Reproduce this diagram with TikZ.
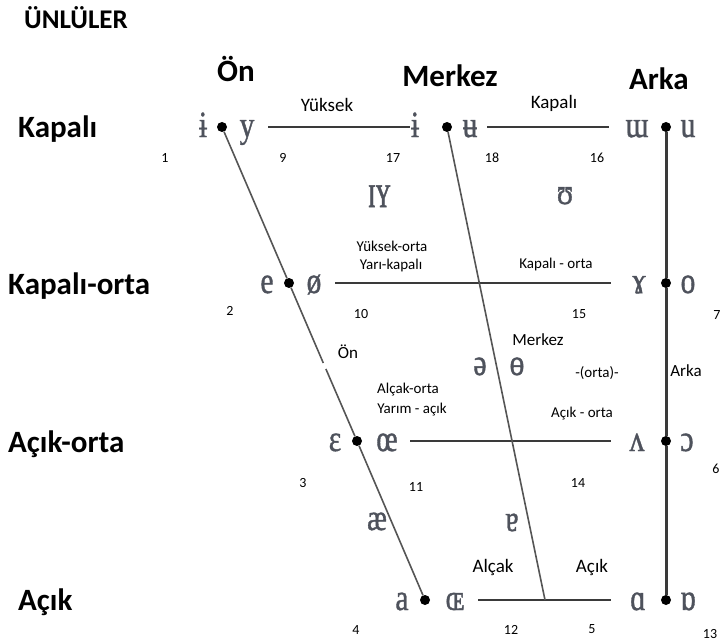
\documentclass[tikz,border=0pt]{standalone}
\usepackage{fontspec}
\setmainfont{Carlito}
\newfontfamily\ipafont[FakeBold=1.2]{Liberation Serif}
\definecolor{ipagray}{HTML}{4E525C}
\definecolor{linegray}{HTML}{3A3A3A}
\definecolor{diaggray}{HTML}{555555}
\newcommand{\ipx}[1]{\scalebox{0.8}[1]{#1}}
\begin{document}
\begin{tikzpicture}[x=1pt,y=-1pt,
  ipa/.style={font=\ipafont\fontsize{37}{37}\selectfont,text=ipagray,inner sep=0pt,anchor=base},
  head/.style={font=\bfseries\fontsize{31}{31}\selectfont,inner sep=0pt,anchor=base},
  title/.style={font=\bfseries\fontsize{27}{27}\selectfont,inner sep=0pt,anchor=base},
  biglab/.style={font=\fontsize{19}{19}\selectfont,inner sep=0pt,anchor=base},
  midlab/.style={font=\fontsize{17}{17}\selectfont,inner sep=0pt,anchor=base},
  smalllab/.style={font=\fontsize{15}{15}\selectfont,inner sep=0pt,anchor=base},
  num/.style={font=\fontsize{14}{14}\selectfont,inner sep=0pt,anchor=base},
  vdot/.style={circle,fill=black,inner sep=0pt,minimum size=10pt},
  hline/.style={line width=2.6pt,draw=linegray},
  bline/.style={line width=3pt,draw=linegray},
  dline/.style={line width=1.6pt,draw=diaggray},
]
\useasboundingbox (0,0) rectangle (721,642);

% headings
\node[title] (t) at (76,29) {ÜNLÜLER};
\node[head] (hon) at (236,82) {Ön};
\node[head] (hmer) at (450,87) {Merkez};
\node[head] (hark) at (659,90) {Arka};
\node[head,anchor=base west] (hk) at (18,137) {Kapalı};
\node[head,anchor=base west] (hko) at (8,294) {Kapalı-orta};
\node[head,anchor=base west] (hao) at (8,452) {Açık-orta};
\node[head,anchor=base west] (ha) at (18,610) {Açık};

% dots
\node[vdot] (f1) at (222,127) {};
\node[vdot] (f2) at (289,283) {};
\node[vdot] (f3) at (357,441) {};
\node[vdot] (f4) at (425,600) {};
\node[vdot] (c1) at (447,127) {};
\node[vdot] (b1) at (666,127) {};
\node[vdot] (b2) at (666,283) {};
\node[vdot] (b3) at (666,441) {};
\node[vdot] (b4) at (666,600) {};

% line end coordinates
\coordinate (g1) at (323.3,363);
\coordinate (g2) at (325.9,369);
\coordinate (r1a) at (268,127);
\coordinate (r1b) at (410,127);
\coordinate (r1c) at (487,127);
\coordinate (r1d) at (609,127);
\coordinate (r2a) at (335,283);
\coordinate (r2b) at (611,283);
\coordinate (r3a) at (410,441);
\coordinate (r3b) at (611,441);
\coordinate (r4a) at (478,600);
\coordinate (r4b) at (611,600);
\coordinate (cb) at (545,600);

% lines
\draw[hline] (r1a) -- (r1b);
\draw[hline] (r1c) -- (r1d);
\draw[hline] (r2a) -- (r2b);
\draw[hline] (r3a) -- (r3b);
\draw[hline] (r4a) -- (r4b);
\draw[bline] (b1) -- (b2) -- (b3) -- (b4);
\draw[dline] (f1) -- (f2) -- (g1);
\draw[dline] (g2) -- (f3) -- (f4);
\draw[dline] (c1) -- (cb);

% vowel symbols
\node[ipa] (v1) at (203,137) {\ipx{ɨ}};
\node[ipa] (v9) at (247,137) {\ipx{y}};
\node[ipa] (v17) at (415,137) {\ipx{ɨ}};
\node[ipa] (v18) at (470,137) {\ipx{ʉ}};
\node[ipa] (v16) at (637,137) {\ipx{ɯ}};
\node[ipa] (v8) at (688,137) {\ipx{u}};
\node[ipa] (v2) at (267,293) {\ipx{e}};
\node[ipa] (v10) at (314,293) {\ipx{ø}};
\node[ipa] (v15) at (639,293) {\ipx{ɤ}};
\node[ipa] (v7) at (688,293) {\ipx{o}};
\node[ipa] (v3) at (335,451) {\ipx{ɛ}};
\node[ipa] (v11) at (387,451) {\ipx{œ}};
\node[ipa] (v14) at (637,451) {\ipx{ʌ}};
\node[ipa] (v6) at (687,451) {\ipx{ɔ}};
\node[ipa] (v4) at (402,610) {\ipx{a}};
\node[ipa] (v12) at (455,610) {\ipx{ɶ}};
\node[ipa] (v5) at (638,610) {\ipx{ɑ}};
\node[ipa] (v13) at (688,610) {\ipx{ɒ}};
\node[ipa,font=\ipafont\fontsize{47}{47}\selectfont] (vIY) at (379,207) {\scalebox{0.62}[1]{ɪʏ}};
\node[ipa] (vU) at (565,204) {\ipx{ʊ}};
\node[ipa] (vschwa) at (480,375) {\ipx{ə}};
\node[ipa] (vbo) at (517,375) {\ipx{ɵ}};
\node[ipa] (vae) at (377,530) {\ipx{æ}};
\node[ipa] (vtu) at (512,531) {\ipx{ɐ}};

% numbers
\node[num] (n1) at (165,162) {1};
\node[num] (n9) at (283,162) {9};
\node[num] (n17) at (393,162) {17};
\node[num] (n18) at (492,162) {18};
\node[num] (n16) at (597,162) {16};
\node[num] (n2) at (230,315) {2};
\node[num] (n10) at (361,318) {10};
\node[num] (n15) at (579,318) {15};
\node[num] (n7) at (717,319) {7};
\node[num] (n3) at (303,487) {3};
\node[num] (n11) at (416,491) {11};
\node[num] (n14) at (578,487) {14};
\node[num] (n6) at (716,473) {6};
\node[num] (n4) at (356,634) {4};
\node[num] (n12) at (511,634) {12};
\node[num] (n5) at (592,633) {5};
\node[num] (n13) at (710,638) {13};

% labels
\node[biglab] (lyuk) at (327,112) {Yüksek};
\node[biglab] (lkap) at (554,109) {Kapalı};
\node[smalllab] (lyo) at (392,251) {Yüksek-orta};
\node[smalllab] (lyk) at (391,269) {Yarı-kapalı};
\node[smalllab] (lko) at (556,268) {Kapalı - orta};
\node[midlab] (lon) at (348,358) {Ön};
\node[midlab] (lmer) at (538,345) {Merkez};
\node[smalllab] (lorta) at (597,377) {-(orta)-};
\node[midlab] (lark) at (686,376) {Arka};
\node[smalllab] (lao) at (408,393) {Alçak-orta};
\node[smalllab] (lya) at (412,413) {Yarım - açık};
\node[smalllab] (laco) at (582,417) {Açık - orta};
\node[biglab] (lalc) at (493,572) {Alçak};
\node[biglab] (lacik) at (592,572) {Açık};
\end{tikzpicture}
\end{document}
